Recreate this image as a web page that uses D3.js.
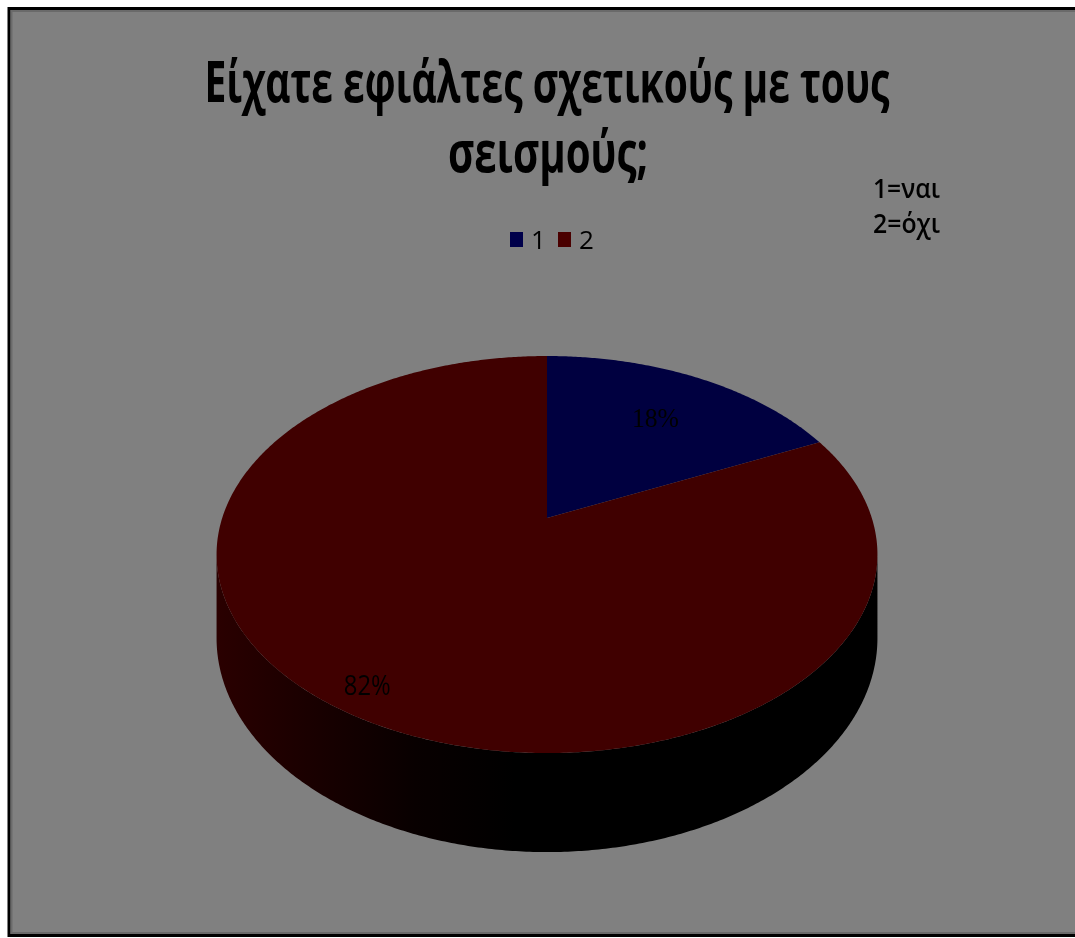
<!DOCTYPE html>
<html>
<head>
<meta charset="utf-8">
<script src="https://cdn.jsdelivr.net/npm/d3@7"></script>
<style>
  body { margin: 0; background: #ffffff; overflow: hidden; }
  svg { display: block; }
</style>
</head>
<body>
<svg id="chart" width="1075" height="938"></svg>
<script>
// ---- data ----
const categories = ["1", "2"];
const values = [18, 82];
const valueLabels = ["18%", "82%"];
const sliceColors = ["#000040", "#400000"];
const legendColors = ["#00004a", "#4a0000"];
const titleLines = ["Είχατε εφιάλτες σχετικούς με τους", "σεισμούς;"];
const noteLines = ["1=ναι", "2=όχι"];

// ---- layout ----
const W = 1075, H = 938;
const svg = d3.select("#chart");

// 3D pie projection: disk point at angle theta (clockwise from the far edge), radius fraction r
const P = { cx: 547, cy: 518, A: 324.8, B: 191.8, k: 0.184, depth: 80.8 };
function proj(theta, r, drop) {
  const X = r * Math.sin(theta), Z = -r * Math.cos(theta);
  const s = 1 / (1 - P.k * Z);
  return [P.cx + P.A * X * s, P.cy + P.B * Z * s + (drop ? P.depth * s : 0)];
}
const labelRadius = [0.69, 0.89];

const defs = svg.append("defs");
const grad = defs.append("linearGradient")
  .attr("id", "sideShade")
  .attr("gradientUnits", "userSpaceOnUse")
  .attr("x1", 217).attr("x2", 878).attr("y1", 0).attr("y2", 0);
[[0, "#2a0000"], [0.12, "#1c0000"], [0.3, "#080000"], [0.45, "#000000"], [1, "#000000"]]
  .forEach(([o, c]) => grad.append("stop").attr("offset", o).attr("stop-color", c));
defs.append("filter").attr("id", "soft")
  .attr("x", "-5%").attr("y", "-20%").attr("width", "110%").attr("height", "140%")
  .append("feGaussianBlur").attr("stdDeviation", 0.55);

// chart area with frame
svg.append("rect")
  .attr("x", 9).attr("y", 8.5).attr("width", W + 10).attr("height", 927)
  .attr("fill", "#808080").attr("stroke", "#000").attr("stroke-width", 3);
svg.append("rect")
  .attr("x", 11.5).attr("y", 11).attr("width", W + 10).attr("height", 922)
  .attr("fill", "none").attr("stroke", "#6a6a6a").attr("stroke-width", 2);

const textG = svg.append("g").attr("filter", "url(#soft)");

// title
const title = textG.append("text")
  .attr("text-anchor", "middle")
  .attr("font-family", "'Open Sans', 'Noto Sans', sans-serif")
  .attr("font-weight", 700)
  .attr("font-size", 57)
  .attr("fill", "#000");
title.append("tspan").attr("x", 547).attr("y", 102).text(titleLines[0])
  .attr("textLength", 685).attr("lengthAdjust", "spacingAndGlyphs");
title.append("tspan").attr("x", 548).attr("y", 172).text(titleLines[1])
  .attr("textLength", 200).attr("lengthAdjust", "spacingAndGlyphs");

// note on the right
textG.append("g")
  .selectAll("text").data(noteLines).join("text")
  .attr("x", 873).attr("y", (d, i) => 198 + i * 35)
  .attr("font-family", "'Open Sans', 'Noto Sans', sans-serif")
  .attr("font-weight", 600)
  .attr("font-size", 27)
  .attr("textLength", 67).attr("lengthAdjust", "spacingAndGlyphs")
  .attr("fill", "#000")
  .text(d => d);

// legend
const legX = [510, 558];
categories.forEach((c, i) => {
  svg.append("rect")
    .attr("x", legX[i]).attr("y", 232).attr("width", 13).attr("height", 15)
    .attr("fill", legendColors[i]);
  textG.append("text")
    .attr("x", legX[i] + 21).attr("y", 249)
    .attr("font-family", "'Open Sans', 'Noto Sans', sans-serif")
    .attr("font-size", 26)
    .attr("fill", "#000")
    .text(c);
});

// pie
const pie = d3.pie().sort(null).value(d => d)
  .startAngle(0).endAngle(2 * Math.PI);
const arcs = pie(values);
const line = d3.line();
const step = Math.PI / 360;

function arcPoints(a0, a1, r, drop) {
  const pts = [];
  const n = Math.max(2, Math.ceil((a1 - a0) / step));
  for (let i = 0; i <= n; i++) pts.push(proj(a0 + (a1 - a0) * i / n, r, drop));
  return pts;
}

// visible side band lies between the two silhouette angles
const sideA0 = Math.acos(-P.k), sideA1 = 2 * Math.PI - Math.acos(-P.k);
const pieG = svg.append("g");
arcs.forEach((a, i) => {
  const s0 = Math.max(a.startAngle, sideA0), s1 = Math.min(a.endAngle, sideA1);
  if (s1 > s0) {
    const top = arcPoints(s0, s1, 1, false);
    const bottom = arcPoints(s0, s1, 1, true).reverse();
    pieG.append("path")
      .attr("d", line(top.concat(bottom)) + "Z")
      .attr("fill", i === 1 ? "url(#sideShade)" : "#000010");
  }
});
arcs.forEach((a, i) => {
  const pts = [proj(0, 0, false)].concat(arcPoints(a.startAngle, a.endAngle, 1, false));
  pieG.append("path")
    .attr("d", line(pts) + "Z")
    .attr("fill", sliceColors[i]);
});

// value labels
const labelFonts = ["'Liberation Serif', 'DejaVu Serif', serif", "'Open Sans', 'Noto Sans', sans-serif"];
const labelG = svg.append("g").attr("filter", "url(#soft)");
arcs.forEach((a, i) => {
  const mid = (a.startAngle + a.endAngle) / 2;
  const [x, y] = proj(mid, labelRadius[i], false);
  labelG.append("text")
    .attr("x", x).attr("y", y)
    .attr("dy", "0.35em")
    .attr("text-anchor", "middle")
    .attr("font-family", labelFonts[i])
    .attr("font-size", 28)
    .attr("textLength", 47).attr("lengthAdjust", "spacingAndGlyphs")
    .attr("fill", "#000")
    .text(valueLabels[i]);
});
</script>
</body>
</html>
